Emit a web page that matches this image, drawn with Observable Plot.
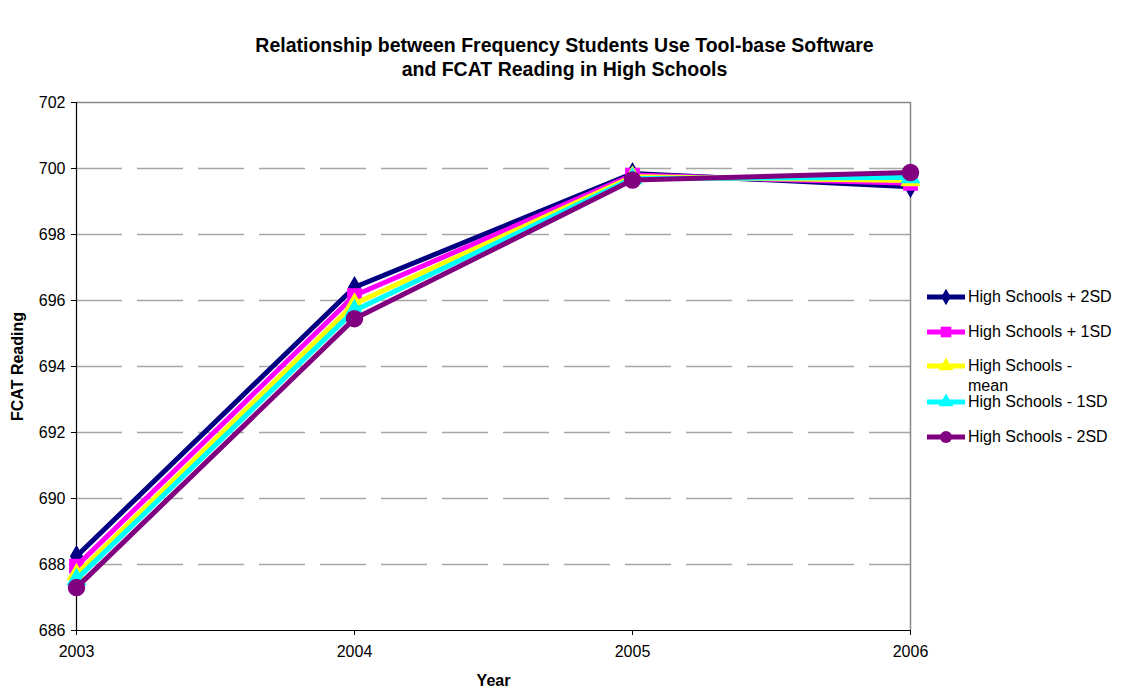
<!DOCTYPE html>
<html>
<head>
<meta charset="utf-8">
<script src="https://cdn.jsdelivr.net/npm/d3@7"></script>
<script src="https://cdn.jsdelivr.net/npm/@observablehq/plot@0.6"></script>
<style>
  body { margin: 0; background: #fff; font-family: "Liberation Sans", Arial, sans-serif; }
  #wrap { position: relative; width: 1125px; height: 691px; overflow: hidden; }
  #title { position: absolute; left: 0; top: 33px; width: 1125px; text-align: center; font-weight: bold; font-size: 19.5px; line-height: 24px; color: #000; padding-left: 4px; box-sizing: border-box; }
  #chart { position: absolute; left: 0; top: 0; }
  #legend { position: absolute; left: 926px; top: 0; }
  .item { position: absolute; left: 0; display: flex; align-items: flex-start; font-size: 16px; line-height: 20px; }
  .item svg { flex: none; margin-top: 0; }
  .item span { width: 146px; margin-left: 2px; }
  svg [aria-label="y-axis label"] text, svg [aria-label="x-axis label"] text { font-weight: bold; }
</style>
</head>
<body>
<div id="wrap">
  <div id="title">Relationship between Frequency Students Use Tool-base Software<br>and FCAT Reading in High Schools</div>
  <div id="chart"></div>
  <div id="legend"></div>
</div>
<script>
const years = ["2003", "2004", "2005", "2006"];
const seriesNames = ["High Schools + 2SD", "High Schools + 1SD", "High Schools - mean", "High Schools - 1SD", "High Schools - 2SD"];
const plus2SD  = [688.25, 696.40, 699.85, 699.45];
const plus1SD  = [687.95, 696.15, 699.80, 699.55];
const meanVals = [687.70, 695.90, 699.75, 699.64];
const minus1SD = [687.55, 695.70, 699.70, 699.73];
const minus2SD = [687.30, 695.45, 699.65, 699.88];
const yTicks = [686, 688, 690, 692, 694, 696, 698, 700, 702];

const seriesValues = [plus2SD, plus1SD, meanVals, minus1SD, minus2SD];
const colors = ["#000080", "#ff00ff", "#ffff00", "#00ffff", "#800080"];
const symbols = ["diamond", "square", "triangle", "triangle", "circle"];
const radii = [6, 7.5, 6.5, 6.5, 8];
const legendR = [5, 6, 5.5, 5.5, 6];

const data = [];
seriesNames.forEach((s, i) => years.forEach((y, j) => data.push({series: s, year: y, value: seriesValues[i][j]})));

const marks = [
  Plot.ruleY(yTicks.slice(1, -1), {stroke: "#a6a6a6", strokeWidth: 1.5, strokeDasharray: "46,15"}),
  Plot.ruleY([702], {stroke: "#888", strokeWidth: 1.5}),
  Plot.ruleX(["2006"], {stroke: "#888", strokeWidth: 1.5}),
  Plot.ruleX(["2003"], {stroke: "#000", strokeWidth: 1.2}),
  Plot.ruleY([686], {stroke: "#000", strokeWidth: 1.2}),
  Plot.axisY({ticks: yTicks, tickSize: 5, tickPadding: 6, fontSize: 16, label: "FCAT Reading", labelAnchor: "center", labelArrow: "none", labelOffset: 65}),
  Plot.axisX({tickSize: 5, tickPadding: 10, fontSize: 16, label: "Year", labelAnchor: "center", labelArrow: "none", labelOffset: 55})
];
seriesNames.forEach((s, i) => {
  const d = data.filter(r => r.series === s);
  marks.push(Plot.line(d, {x: "year", y: "value", stroke: colors[i], strokeWidth: 5, strokeLinejoin: "miter"}));
  marks.push(Plot.dot(d, {x: "year", y: "value", fill: colors[i], stroke: colors[i], symbol: symbols[i], r: radii[i]}));
});

const chart = Plot.plot({
  width: 1125,
  height: 691,
  marginLeft: 76,
  marginRight: 215,
  marginTop: 102,
  marginBottom: 61,
  style: {fontFamily: "'Liberation Sans', Arial, sans-serif", fontSize: "16px", background: "transparent", color: "#000"},
  x: {type: "point", domain: years, padding: 0, label: "Year"},
  y: {domain: [686, 702], label: "FCAT Reading"},
  marks
});
document.getElementById("chart").appendChild(chart);

const legendTops = [287, 322, 356, 392, 427];
const legend = document.getElementById("legend");
seriesNames.forEach((s, i) => {
  const item = document.createElement("div");
  item.className = "item";
  item.style.top = legendTops[i] + "px";
  const sv = d3.create("svg").attr("width", 40).attr("height", 20);
  sv.append("line").attr("x1", 1).attr("x2", 39).attr("y1", 10).attr("y2", 10).attr("stroke", colors[i]).attr("stroke-width", 5);
  const sym = {diamond: d3.symbolDiamond, square: d3.symbolSquare, triangle: d3.symbolTriangle, circle: d3.symbolCircle}[symbols[i]];
  sv.append("path").attr("transform", "translate(20,10)").attr("d", d3.symbol(sym, Math.PI * legendR[i] * legendR[i])()).attr("fill", colors[i]);
  item.appendChild(sv.node());
  const t = document.createElement("span");
  t.textContent = s;
  item.appendChild(t);
  legend.appendChild(item);
});
</script>
</body>
</html>
